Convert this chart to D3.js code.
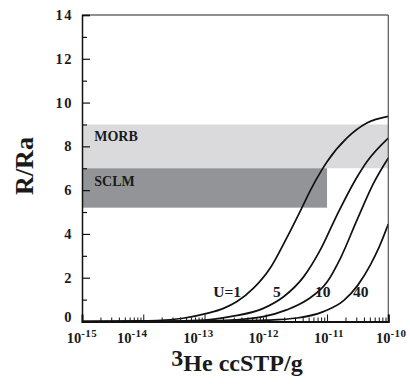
<!DOCTYPE html>
<html><head><meta charset="utf-8">
<script src="https://cdn.jsdelivr.net/npm/d3@7"></script>
<style>
body{margin:0;background:#fff}
svg{display:block}
text{font-family:"Liberation Serif","Times New Roman",serif;font-weight:bold;fill:#1a1a1a}
</style>
</head><body>
<svg id="c" width="410" height="384"></svg>
<script>
// ---- data ----
const curveLabels = ["U=1", "5", "10", "40"];
const logHeU1  = [-15, -14.5, -14, -13.78, -13.35, -12.96, -12.69, -12.47, -12.2, -11.93, -11.66, -11.41, -11.27, -11.08, -11.0, -10.67, -10.35, -10];
const ratioU1  = [0.0, 0.01, 0.03, 0.04, 0.15, 0.37, 0.6, 0.91, 1.52, 2.43, 3.81, 5.2, 6.0, 6.95, 7.3, 8.4, 9.07, 9.37];
const logHeU5  = [-15, -14, -13.5, -13, -12.58, -12.04, -11.71, -11.38, -11.11, -10.84, -10.51, -10.35, -10];
const ratioU5  = [0.0, 0.01, 0.02, 0.06, 0.22, 0.6, 1.13, 2.05, 3.27, 4.85, 6.6, 7.3, 8.38];
const logHeU10 = [-15, -13.5, -13, -12.5, -12.04, -11.66, -11.33, -11.0, -10.78, -10.51, -10.24, -10];
const ratioU10 = [0.0, 0.01, 0.03, 0.08, 0.22, 0.53, 0.98, 1.8, 2.9, 4.64, 6.32, 7.47];
const logHeU40 = [-15, -13, -12.5, -12, -11.49, -11.06, -10.73, -10.5, -10.29, -10.15, -10];
const ratioU40 = [0.0, 0.01, 0.03, 0.06, 0.16, 0.45, 0.95, 1.65, 2.6, 3.4, 4.45];

const bandNames  = ["MORB", "SCLM"];
const bandLow    = [7, 5.2];
const bandHigh   = [9, 7];
const bandEndExp = [-10, -11];

const xTickExponents = [-15, -14, -13, -12, -11, -10];
const yMajorTicks = [0, 2, 4, 6, 8, 10, 12, 14];

// ---- layout ----
const L = 82, R = 388.3, T = 15, B = 321.5;
const svg = d3.select("#c");
const x = d3.scaleLog().domain([1e-15, 1e-10]).range([L, R]);
const y = d3.scaleLinear().domain([0, 14]).range([B, T]);
const ex = e => x(Math.pow(10, e));

// bands
const bandColors = ["#dadadc", "#939497"];
bandNames.forEach((n, i) => {
  svg.append("rect")
    .attr("x", x(1e-15)).attr("y", y(bandHigh[i]))
    .attr("width", ex(bandEndExp[i]) - x(1e-15))
    .attr("height", y(bandLow[i]) - y(bandHigh[i]))
    .attr("fill", bandColors[i]);
});
// band labels
const bandLabelY = [8.25, 6.2];
bandNames.forEach((n, i) => {
  svg.append("text").attr("x", ex(-14.8)).attr("y", y(bandLabelY[i]))
    .attr("font-size", 14).text(n);
});

// curves
const series = [
  [logHeU1, ratioU1], [logHeU5, ratioU5], [logHeU10, ratioU10], [logHeU40, ratioU40]
];
const line = d3.line().x(d => ex(d[0])).y(d => y(d[1])).curve(d3.curveMonotoneX);
series.forEach(([lx, ry]) => {
  svg.append("path").datum(lx.map((v, i) => [v, ry[i]]))
    .attr("d", line).attr("fill", "none").attr("stroke", "#111").attr("stroke-width", 1.7);
});
// curve labels
const labelLogX = [-12.63, -11.82, -11.07, -10.45];
curveLabels.forEach((t, i) => {
  svg.append("text").attr("x", ex(labelLogX[i])).attr("y", y(1.12))
    .attr("text-anchor", "middle").attr("font-size", 15.5).text(t);
});

// frame
svg.append("line").attr("x1", L).attr("x2", R).attr("y1", T).attr("y2", T).attr("stroke", "#222").attr("stroke-width", 1.2);
svg.append("line").attr("x1", R).attr("x2", R).attr("y1", T).attr("y2", B).attr("stroke", "#555").attr("stroke-width", 1.2);

// y axis
const yMinor = d3.range(0, 15, 1).filter(v => v % 2 === 1);
const gy = svg.append("g").attr("transform", `translate(${L},0)`);
gy.call(d3.axisLeft(y).tickValues(yMajorTicks).tickSize(-8).tickFormat(""));
gy.append("g").call(d3.axisLeft(y).tickValues(yMinor).tickSize(-5).tickFormat("")).select(".domain").remove();
gy.selectAll("path.domain").attr("stroke", "#111").attr("stroke-width", 1.5);
gy.selectAll(".tick line").attr("stroke", "#111").attr("stroke-width", 1.2);
yMajorTicks.forEach(v => {
  svg.append("text").attr("x", L - 9).attr("y", y(v) + (v === 0 ? 0 : 5))
    .attr("text-anchor", "end").attr("font-size", 14.5).attr("letter-spacing", 1.5).text(v);
});

// x axis
const xMinor = [];
for (let e = -15; e < -10; e++) for (let m = 2; m <= 9; m++) xMinor.push(m * Math.pow(10, e));
const gx = svg.append("g").attr("transform", `translate(0,${B})`);
gx.call(d3.axisBottom(x).tickValues(xTickExponents.map(e => Math.pow(10, e))).tickSize(-7).tickFormat(""));
gx.append("g").call(d3.axisBottom(x).tickValues(xMinor).tickSize(-4).tickFormat("")).select(".domain").remove();
gx.selectAll("path.domain").attr("stroke", "#111").attr("stroke-width", 2);
gx.selectAll(".tick line").attr("stroke", "#111").attr("stroke-width", 1);
const labelNudge = [0, -11, -6, -2, 2, 3];
xTickExponents.forEach((e, i) => {
  const t = svg.append("text").attr("x", ex(e) + labelNudge[i]).attr("y", 343)
    .attr("text-anchor", "middle").attr("font-size", 14.5);
  t.append("tspan").text("10");
  t.append("tspan").attr("dy", -6).attr("font-size", 11).attr("letter-spacing", 0.5).text(String(e));
});

// axis titles
const xt = svg.append("text").attr("x", 237).attr("y", 371).attr("text-anchor", "middle").attr("font-size", 24);
xt.append("tspan").attr("dy", -5).text("3");
xt.append("tspan").attr("dy", 5).text("He ccSTP/g");

svg.append("text").attr("transform", "translate(33,166) rotate(-90)")
  .attr("text-anchor", "middle").attr("font-size", 26).text("R/Ra");
</script>
</body></html>
